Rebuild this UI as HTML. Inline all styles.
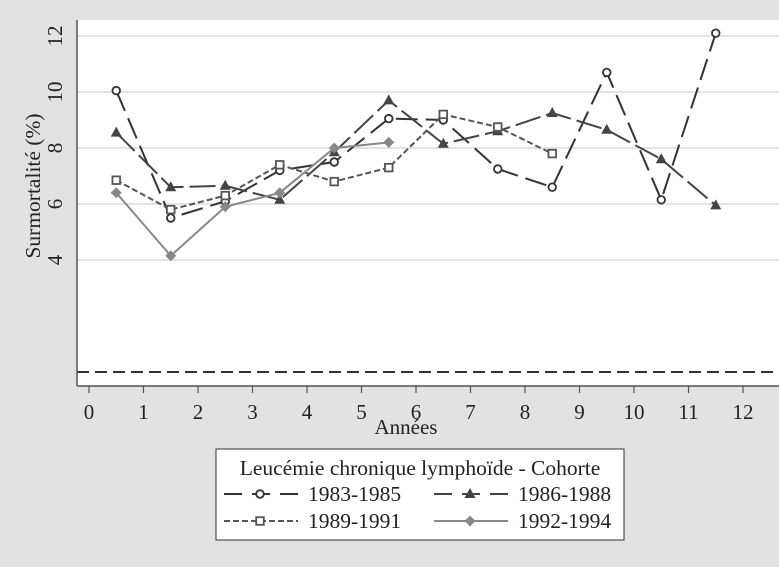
<!DOCTYPE html>
<html><head><meta charset="utf-8"><style>
body{margin:0;background:#e2e2e2;}
svg{display:block;font-family:"Liberation Serif",serif;}
</style></head><body>
<svg id="chart" width="779" height="567">
<rect x="0" y="0" width="779" height="567" fill="#e2e2e2"/>
<rect x="77" y="20" width="702" height="366" fill="#fff"/>
<g id="grid"></g><g id="series"></g><g id="axes"></g>
<text x="406" y="434" font-size="21" text-anchor="middle" fill="#222">Années</text>
<text transform="translate(40,186) rotate(-90)" font-size="21.5" text-anchor="middle" fill="#222">Surmortalité (%)</text>
<g>
<rect x="216" y="449" width="408" height="91" fill="#fff" stroke="#333" stroke-width="1"/>
<text x="420" y="475" font-size="21.5" text-anchor="middle" fill="#222">Leucémie chronique lymphoïde - Cohorte</text>
<g id="legend-entries"></g>
</g>
</svg>
<script>
const xVals=[0.5,1.5,2.5,3.5,4.5,5.5,6.5,7.5,8.5,9.5,10.5,11.5];
const s1983=[10.05,5.5,6.1,7.2,7.5,9.05,9.0,7.25,6.6,10.7,6.15,12.1];
const s1986=[8.55,6.6,6.65,6.15,7.85,9.7,8.15,8.6,9.25,8.65,7.6,5.95];
const s1989=[6.85,5.8,6.3,7.4,6.8,7.3,9.2,8.75,7.8];
const s1992=[6.4,4.15,5.9,6.4,8.0,8.2];
const xTicks=[0,1,2,3,4,5,6,7,8,9,10,11,12];
const yTicks=[4,6,8,10,12];
const seriesNames=["1983-1985","1986-1988","1989-1991","1992-1994"];
const X=v=>89+v*54.5, Y=v=>372-v*28;
const NS="http://www.w3.org/2000/svg";
function mk(p,t,a){const e=document.createElementNS(NS,t);for(const k in a)e.setAttribute(k,a[k]);p.appendChild(e);return e;}
const grid=document.getElementById('grid'),axes=document.getElementById('axes'),ser=document.getElementById('series');
yTicks.forEach(v=>{
 const l=mk(grid,'line',{x1:77,x2:779,y1:Y(v),y2:Y(v),stroke:'#e3e3e3','stroke-width':2});
 
 
 const t=mk(axes,'text',{transform:`translate(62,${Y(v)}) rotate(-90)`,'font-size':21,'text-anchor':'middle',fill:'#222'});
 t.textContent=v;
 
 
});
const ref=mk(grid,'line',{x1:77,x2:779,y1:Y(0),y2:Y(0),stroke:'#333','stroke-width':2,'stroke-dasharray':'12,6'});


const la=mk(axes,'line',{x1:77,x2:77,y1:20,y2:386,stroke:'#555','stroke-width':1.5});


const ba=mk(axes,'line',{x1:77,x2:779,y1:386,y2:386,stroke:'#555','stroke-width':1.5});


xTicks.forEach(v=>{
 const tk=mk(axes,'line',{x1:X(v),x2:X(v),y1:386,y2:393,stroke:'#555','stroke-width':1.2});
 
 
 const t=mk(axes,'text',{x:X(v),y:419,'font-size':21,'text-anchor':'middle',fill:'#222'});
 t.textContent=v;
 
 
});
const styles=[
 {data:s1983,color:'#333',dash:'22,8',m:'circle'},
 {data:s1986,color:'#444',dash:'26,6',m:'tri'},
 {data:s1989,color:'#555',dash:'6,3',m:'square'},
 {data:s1992,color:'#888',dash:'none',m:'diamond'}];
function marker(g,type,x,y,c){
 let e;
 if(type==='circle')e=mk(g,'circle',{cx:x,cy:y,r:3.8,fill:'#fff',stroke:c,'stroke-width':1.8});
 else if(type==='tri')e=mk(g,'polygon',{points:`${x},${y-6} ${x-5.5},${y+4} ${x+5.5},${y+4}`,fill:c});
 else if(type==='square')e=mk(g,'rect',{x:x-3.8,y:y-3.8,width:7.6,height:7.6,fill:'#fff',stroke:c,'stroke-width':1.8});
 else e=mk(g,'polygon',{points:`${x},${y-5.5} ${x+5.5},${y} ${x},${y+5.5} ${x-5.5},${y}`,fill:c});
 return e;
}
styles.forEach((s,i)=>{
 const g=mk(ser,'g',{});
 
 
 const pts=s.data.map((v,j)=>X(xVals[j])+','+Y(v)).join(' ');
 const pl=mk(g,'polyline',{points:pts,fill:'none',stroke:s.color,'stroke-width':2,'stroke-dasharray':s.dash});
 
 
 s.data.forEach((v,j)=>{
  const m=marker(g,s.m,X(xVals[j]),Y(v),s.color);
  
  
 });
});
const le=document.getElementById('legend-entries');
const pos=[[222,494],[432,494],[222,521],[432,521]];
styles.forEach((s,i)=>{
 const [x,y]=pos[i];
 const g=mk(le,'g',{});
 
 
 mk(g,'line',{x1:x+2,x2:x+76,y1:y,y2:y,stroke:s.color,'stroke-width':2,'stroke-dasharray':s.m==='square'?'6,3':(s.m==='diamond'?'none':'18,10')});
 marker(g,s.m,x+38,y,s.color);
 const t=mk(g,'text',{x:x+86,y:y+7,'font-size':21.5,fill:'#222'});
 t.textContent=seriesNames[i];
});
</script>
</body></html>
